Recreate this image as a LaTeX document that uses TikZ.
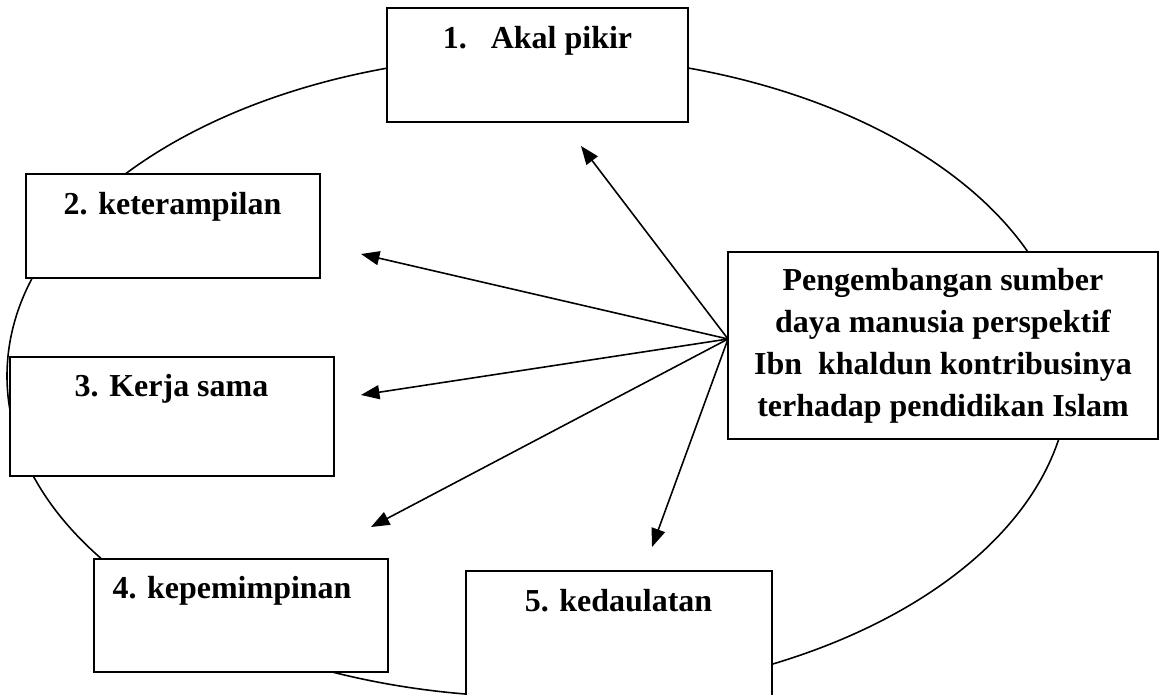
\documentclass[tikz,border=0pt]{standalone}
\usepackage{fontspec}
\setmainfont{Liberation Serif}
\usetikzlibrary{arrows.meta}
\begin{document}
\begin{tikzpicture}[x=0.02cm, y=-0.02cm,
  box/.style={draw, line width=1.1pt, fill=white, inner sep=0pt},
  lbl/.style={font=\bfseries\fontsize{18.2}{23.9}\selectfont, anchor=base, inner sep=0pt},
  arr/.style={line width=0.9pt, -{Triangle[length=10.5pt, width=8pt]}},
  orbit/.style={line width=0.9pt}]
\useasboundingbox (0,0) rectangle (1159,695);
\draw[orbit] (538,376) ellipse [x radius=531, y radius=321];
% boxes
\node[box, minimum width=6.02cm, minimum height=2.28cm] (b1) at (537.5,65) {};
\node[box, minimum width=5.88cm, minimum height=2.08cm] (b2) at (173,226) {};
\node[box, minimum width=6.48cm, minimum height=2.38cm] (b3) at (172,416.5) {};
\node[box, minimum width=5.88cm, minimum height=2.26cm] (b4) at (241,615.5) {};
\node[box, minimum width=6.12cm, minimum height=2.54cm] (b5) at (619,634.5) {};
\node[box, minimum width=8.6cm, minimum height=3.74cm, align=center,
      font=\bfseries\fontsize{18.2}{23.9}\selectfont] (bc) at (943,345.5)
  {Pengembangan sumber\\daya manusia perspektif\\Ibn\ \ khaldun kontribusinya\\terhadap pendidikan Islam};
% labels
\node[lbl] (t1) at (537.5,49) {1.\hspace{0.75em}Akal pikir};
\node[lbl] (t2) at (172.5,215) {2. keterampilan};
\node[lbl] (t3) at (171.5,397) {3. Kerja sama};
\node[lbl] (t4) at (232,598) {4. kepemimpinan};
\node[lbl] (t5) at (618.5,611) {5. kedaulatan};
% arrows
\coordinate (src) at (728,339);
\coordinate (a1) at (581,146);
\coordinate (a2) at (361,254);
\coordinate (a3) at (361,395);
\coordinate (a4) at (371,527);
\coordinate (a5) at (652,547);
\foreach \t in {a1,a2,a3,a4,a5} \draw[arr] (src) -- (\t);
\end{tikzpicture}
\end{document}
